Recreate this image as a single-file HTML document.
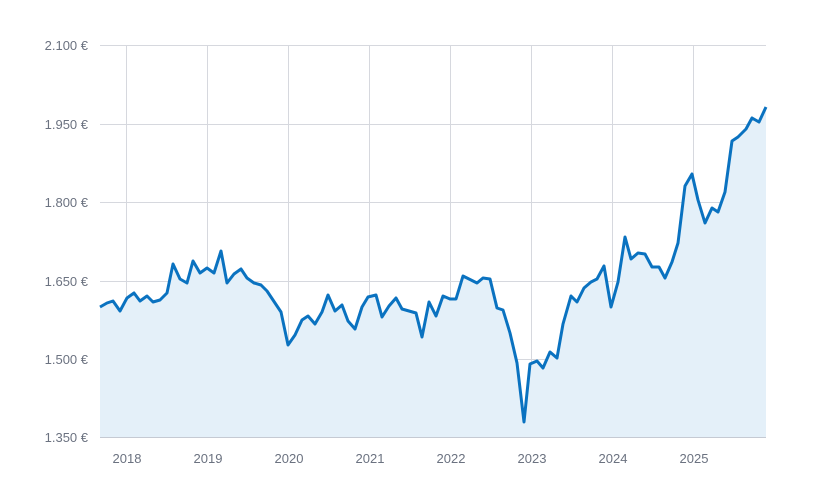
<!DOCTYPE html>
<html><head><meta charset="utf-8"><style>
html,body{margin:0;padding:0;background:#fff;}
svg{display:block;font-family:"Liberation Sans",sans-serif;}
</style></head><body>
<svg width="819" height="493" viewBox="0 0 819 493">
<g stroke="#d6d8de" stroke-width="1">
<line x1="100" y1="45.5" x2="766" y2="45.5"/>
<line x1="100" y1="124.5" x2="766" y2="124.5"/>
<line x1="100" y1="202.5" x2="766" y2="202.5"/>
<line x1="100" y1="281.5" x2="766" y2="281.5"/>
<line x1="100" y1="359.5" x2="766" y2="359.5"/>
<line x1="126.5" y1="45" x2="126.5" y2="437"/>
<line x1="207.5" y1="45" x2="207.5" y2="437"/>
<line x1="288.5" y1="45" x2="288.5" y2="437"/>
<line x1="369.5" y1="45" x2="369.5" y2="437"/>
<line x1="450.5" y1="45" x2="450.5" y2="437"/>
<line x1="531.5" y1="45" x2="531.5" y2="437"/>
<line x1="612.5" y1="45" x2="612.5" y2="437"/>
<line x1="693.5" y1="45" x2="693.5" y2="437"/>
</g>
<path d="M100,307 L107,303 113,301 120,311 127,298 134,293 140,301 147,296 153,302 160,300 167,293 173,264 180,279 187,283 193,261 200,273 207,268 214,273 221,251 227,283 234,274 241,269 247,278 254,283 261,285 267,291 273,300 281,312 288,345 295,335 302,320 308,316 315,324 322,312 328,295 335,311 342,305 348,321 355,329 362,307 368,297 376,295 382,317 389,306 396,298 402,309 409,311 416,313 422,337 429,302 436,316 443,296 450,299 456,299 463,276 469,279 477,283 483,278 490,279 497,308 503,310 510,333 517,363 524,422 530,364 537,361 543,368 550,352 557,358 563,324 571,296 577,302 584,288 591,282 597,279 604,266 611,307 618,282 625,237 631,259 638,253 645,254 652,267 659,267 665,278 672,262 678,243 685,186 692,174 698,200 705,223 712,208 718,212 725,192 732,141 738,137 746,129 752,118 759,122 766,107 L766,437 L100,437 Z" fill="#e4f0f9"/>
<line x1="100" y1="437.5" x2="766" y2="437.5" stroke="#c5cad3" stroke-width="1"/>
<path d="M100,307 L107,303 113,301 120,311 127,298 134,293 140,301 147,296 153,302 160,300 167,293 173,264 180,279 187,283 193,261 200,273 207,268 214,273 221,251 227,283 234,274 241,269 247,278 254,283 261,285 267,291 273,300 281,312 288,345 295,335 302,320 308,316 315,324 322,312 328,295 335,311 342,305 348,321 355,329 362,307 368,297 376,295 382,317 389,306 396,298 402,309 409,311 416,313 422,337 429,302 436,316 443,296 450,299 456,299 463,276 469,279 477,283 483,278 490,279 497,308 503,310 510,333 517,363 524,422 530,364 537,361 543,368 550,352 557,358 563,324 571,296 577,302 584,288 591,282 597,279 604,266 611,307 618,282 625,237 631,259 638,253 645,254 652,267 659,267 665,278 672,262 678,243 685,186 692,174 698,200 705,223 712,208 718,212 725,192 732,141 738,137 746,129 752,118 759,122 766,107" fill="none" stroke="#0a72c0" stroke-width="3" stroke-linejoin="round"/>
<g fill="#6b7280" font-size="13" text-anchor="end">
<text x="88" y="50">2.100 €</text>
<text x="88" y="129">1.950 €</text>
<text x="88" y="207">1.800 €</text>
<text x="88" y="286">1.650 €</text>
<text x="88" y="364">1.500 €</text>
<text x="88" y="442">1.350 €</text>
</g>
<g fill="#6b7280" font-size="13" text-anchor="middle">
<text x="127" y="463">2018</text>
<text x="208" y="463">2019</text>
<text x="289" y="463">2020</text>
<text x="370" y="463">2021</text>
<text x="451" y="463">2022</text>
<text x="532" y="463">2023</text>
<text x="613" y="463">2024</text>
<text x="694" y="463">2025</text>
</g>
</svg>
</body></html>
